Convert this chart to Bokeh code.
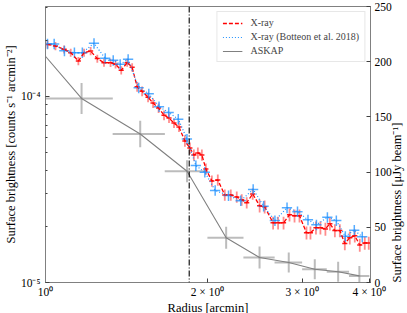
import math
from bokeh.plotting import figure
from bokeh.models import (Range1d, LinearScale, LinearAxis, FixedTicker, Span,
                          ColumnDataSource)
from bokeh.embed import file_html
from bokeh.resources import INLINE

# ---------------- data ----------------
xray_r = [1.0086, 1.0436, 1.0830, 1.1139, 1.1511, 1.1795, 1.2131, 1.2483, 1.2845, 1.3212,
          1.3497, 1.3828, 1.4185, 1.4491, 1.4803, 1.5121, 1.5513, 1.5849, 1.6228, 1.6610,
          1.6968, 1.7334, 1.7707, 1.8163, 1.8554, 1.8874, 1.9199, 1.9530, 1.9867, 2.0384,
          2.0909, 2.1544, 2.2103, 2.2676, 2.3164, 2.3664, 2.4277, 2.5010, 2.5552, 2.6494,
          2.7066, 2.7706, 2.8423, 2.9040, 2.9663, 3.0565, 3.1090, 3.1829, 3.2442, 3.3143,
          3.3783, 3.4514, 3.5254, 3.6014, 3.6790, 3.7584, 3.8395, 3.9224, 3.9900]
xray_sb = [1.897e-4, 1.858e-4, 1.784e-4, 1.713e-4, 1.545e-4, 1.713e-4, 1.747e-4, 1.591e-4, 1.514e-4, 1.511e-4,
           1.483e-4, 1.377e-4, 1.514e-4, 1.429e-4, 1.124e-4, 1.063e-4, 9.88e-5, 9.18e-5, 8.63e-5, 7.91e-5,
           7.63e-5, 7.17e-5, 6.83e-5, 5.75e-5, 5.27e-5, 4.84e-5, 4.96e-5, 4.84e-5, 4.07e-5, 3.51e-5,
           3.55e-5, 2.95e-5, 2.95e-5, 2.88e-5, 2.78e-5, 2.68e-5, 2.99e-5, 2.58e-5, 2.55e-5, 2.09e-5,
           2.09e-5, 2.09e-5, 2.31e-5, 2.28e-5, 2.28e-5, 1.85e-5, 1.85e-5, 1.97e-5, 1.97e-5, 1.94e-5,
           2.07e-5, 1.90e-5, 1.90e-5, 1.62e-5, 1.74e-5, 1.78e-5, 1.59e-5, 1.63e-5, 1.63e-5]
xray_rel_err = [0.05, 0.05, 0.05, 0.05, 0.05, 0.05, 0.05, 0.05, 0.05, 0.05,
                0.05, 0.05, 0.05, 0.05, 0.06, 0.06, 0.06, 0.06, 0.06, 0.06,
                0.06, 0.06, 0.06, 0.07, 0.07, 0.07, 0.07, 0.07, 0.07, 0.07,
                0.07, 0.07, 0.07, 0.07, 0.07, 0.07, 0.07, 0.08, 0.08, 0.08,
                0.08, 0.08, 0.08, 0.08, 0.08, 0.08, 0.08, 0.08, 0.08, 0.08,
                0.08, 0.08, 0.08, 0.08, 0.08, 0.08, 0.08, 0.08, 0.08]
xray_r_halfwidth = 0.011   # fractional bin half-width

botteon_r = [1.0086, 1.0378, 1.0844, 1.1318, 1.1708, 1.2308, 1.2915, 1.3363, 1.3767, 1.4244,
             1.4903, 1.5561, 1.6258, 1.6945, 1.7654, 1.8323, 1.9036, 1.9780, 2.0674, 2.1888,
             2.3067, 2.4327, 2.5441, 2.6702, 2.8122, 2.9411, 3.0761, 3.1894, 3.3428, 3.4730,
             3.6094, 3.7505, 3.8805]
botteon_sb = [1.909e-4, 1.909e-4, 1.751e-4, 1.713e-4, 1.713e-4, 1.921e-4, 1.597e-4, 1.558e-4, 1.483e-4, 1.577e-4,
              1.110e-4, 1.031e-4, 8.79e-5, 8.18e-5, 7.53e-5, 5.89e-5, 4.24e-5, 3.91e-5, 3.12e-5, 2.93e-5,
              2.75e-5, 3.16e-5, 2.57e-5, 2.15e-5, 2.52e-5, 2.40e-5, 2.17e-5, 2.04e-5, 2.24e-5, 2.15e-5,
              1.77e-5, 1.91e-5, 1.76e-5]
botteon_rel_err = 0.065
botteon_r_halfwidth = 0.022

askap_r = [0.833, 1.167, 1.5, 1.833, 2.167, 2.5, 2.833, 3.167, 3.5, 3.833]
askap_sb = [250.0, 166.7, 134.5, 100.8, 40.6, 22.6, 18.1, 12.0, 9.7, 6.0]
askap_sb_err = [20, 14, 12, 10, 10, 10, 9, 9, 9, 9]
askap_r_err = 0.167

shock_radius = 1.85

x_ticks = [1, 2, 3, 4]
x_tick_labels = ["10\u2070", "2 \u00d7 10\u2070", "3 \u00d7 10\u2070", "4 \u00d7 10\u2070"]
y_ticks = [1e-5, 1e-4]
y_tick_labels = ["10\u207b\u2075", "10\u207b\u2074"]
y_minor = [2e-5, 3e-5, 4e-5, 5e-5, 6e-5, 7e-5, 8e-5, 9e-5, 2e-4, 3e-4]
radio_ticks = [0, 50, 100, 150, 200, 250]
radio_label = "Surface brightness [\u03bcJy beam\u207b\u00b9]"

FONT = "Liberation Serif"

# ---------------- figure ----------------
p = figure(frame_width=325, frame_height=276, x_axis_type="log", y_axis_type="log",
           x_range=Range1d(1.0, 4.02), y_range=Range1d(1e-5, 3.03e-4),
           output_backend="svg", toolbar_location=None,
           min_border_left=35, min_border_right=39, min_border_top=6, min_border_bottom=29)
p.extra_y_ranges = {"radio": Range1d(0, 250)}
p.extra_y_scales = {"radio": LinearScale()}
p.xgrid.visible = False
p.ygrid.visible = False
p.outline_line_color = "#808080"
p.background_fill_color = "white"
p.border_fill_color = "white"

# ASKAP (right axis)
a_src = ColumnDataSource(dict(
    r=askap_r, sb=askap_sb,
    x0=[r - askap_r_err for r in askap_r], x1=[r + askap_r_err for r in askap_r],
    y0=[s - e for s, e in zip(askap_sb, askap_sb_err)],
    y1=[s + e for s, e in zip(askap_sb, askap_sb_err)]))
p.segment("x0", "sb", "x1", "sb", source=a_src, y_range_name="radio",
          line_color="#909090", line_alpha=0.6, line_width=2)
p.segment("r", "y0", "r", "y1", source=a_src, y_range_name="radio",
          line_color="#909090", line_alpha=0.6, line_width=2)

# X-ray (this work)
x_src = ColumnDataSource(dict(
    r=xray_r, sb=xray_sb,
    x0=[r * (1 - xray_r_halfwidth) for r in xray_r],
    x1=[r * (1 + xray_r_halfwidth) for r in xray_r],
    y0=[s * (1 - e) for s, e in zip(xray_sb, xray_rel_err)],
    y1=[s * (1 + e) for s, e in zip(xray_sb, xray_rel_err)]))
p.segment("x0", "sb", "x1", "sb", source=x_src, line_color="red", line_alpha=0.9, line_width=1.5)
p.segment("r", "y0", "r", "y1", source=x_src, line_color="red", line_alpha=0.45, line_width=1.8)

# X-ray (Botteon et al. 2018)
b_src = ColumnDataSource(dict(
    r=botteon_r, sb=botteon_sb,
    x0=[r * (1 - botteon_r_halfwidth) for r in botteon_r],
    x1=[r * (1 + botteon_r_halfwidth) for r in botteon_r],
    y0=[s * (1 - botteon_rel_err) for s in botteon_sb],
    y1=[s * (1 + botteon_rel_err) for s in botteon_sb]))
p.segment("x0", "sb", "x1", "sb", source=b_src, line_color="#1e90ff", line_alpha=0.75, line_width=1.5)
p.segment("r", "y0", "r", "y1", source=b_src, line_color="#1e90ff", line_alpha=0.75, line_width=1.5)

r_line = p.line("r", "sb", source=x_src, line_color="red", line_dash="4 2", line_width=1.3,
                legend_label="X-ray")
b_line = p.line("r", "sb", source=b_src, line_color="#1e90ff", line_dash="1 2", line_width=1.2,
                legend_label="X-ray (Botteon et al. 2018)")
a_line = p.line("r", "sb", source=a_src, y_range_name="radio", line_color="#808080",
                line_width=1.1, legend_label="ASKAP")

p.add_layout(Span(location=shock_radius, dimension="height", line_color="black",
                  line_dash="6 2 1 2", line_width=1.1))

# axes
def style_axis(ax):
    ax.axis_line_color = "#808080"
    ax.major_tick_line_color = "#404040"
    ax.minor_tick_line_color = "#404040"
    ax.major_tick_in = 4
    ax.major_tick_out = 0
    ax.minor_tick_in = 2
    ax.minor_tick_out = 0
    ax.major_label_text_font = FONT
    ax.major_label_text_font_size = "11.5px"
    ax.major_label_text_color = "black"
    ax.axis_label_text_font = FONT
    ax.axis_label_text_font_size = "12.5px"
    ax.axis_label_text_font_style = "normal"
    ax.axis_label_text_color = "black"

xa = p.xaxis[0]
style_axis(xa)
xa.ticker = FixedTicker(ticks=x_ticks, minor_ticks=[])
xa.major_label_overrides = {t: l for t, l in zip(x_ticks, x_tick_labels)}
xa.axis_label = "Radius [arcmin]"
xa.major_label_standoff = 3
xa.axis_label_standoff = 0

ya = p.yaxis[0]
style_axis(ya)
ya.ticker = FixedTicker(ticks=y_ticks, minor_ticks=y_minor)
ya.major_label_overrides = {t: l for t, l in zip(y_ticks, y_tick_labels)}
ya.axis_label = "Surface brightness [counts s\u207b\u00b9 arcmin\u207b\u00b2]"
ya.major_label_standoff = 5
ya.axis_label_standoff = 0

ra = LinearAxis(y_range_name="radio", axis_label=radio_label)
style_axis(ra)
ra.ticker = FixedTicker(ticks=radio_ticks, minor_ticks=[])
ra.major_label_standoff = 4
ra.axis_label_standoff = 2
props = LinearAxis.properties()
if "axis_label_orientation" in props:
    ra.axis_label_orientation = math.pi / 2
if "axis_label_align" in props:
    ra.axis_label_align = "start"
p.add_layout(ra, "right")

leg = p.legend[0]
leg.location = "top_right"
leg.margin = 5
leg.padding = 5
leg.spacing = 3
leg.label_height = 10
leg.glyph_height = 10
leg.glyph_width = 20
leg.label_standoff = 8
leg.label_text_font = FONT
leg.label_text_font_size = "10px"
leg.border_line_color = "#d0d0d0"
leg.background_fill_alpha = 0.85

open("out.html", "w").write(file_html(p, INLINE))
